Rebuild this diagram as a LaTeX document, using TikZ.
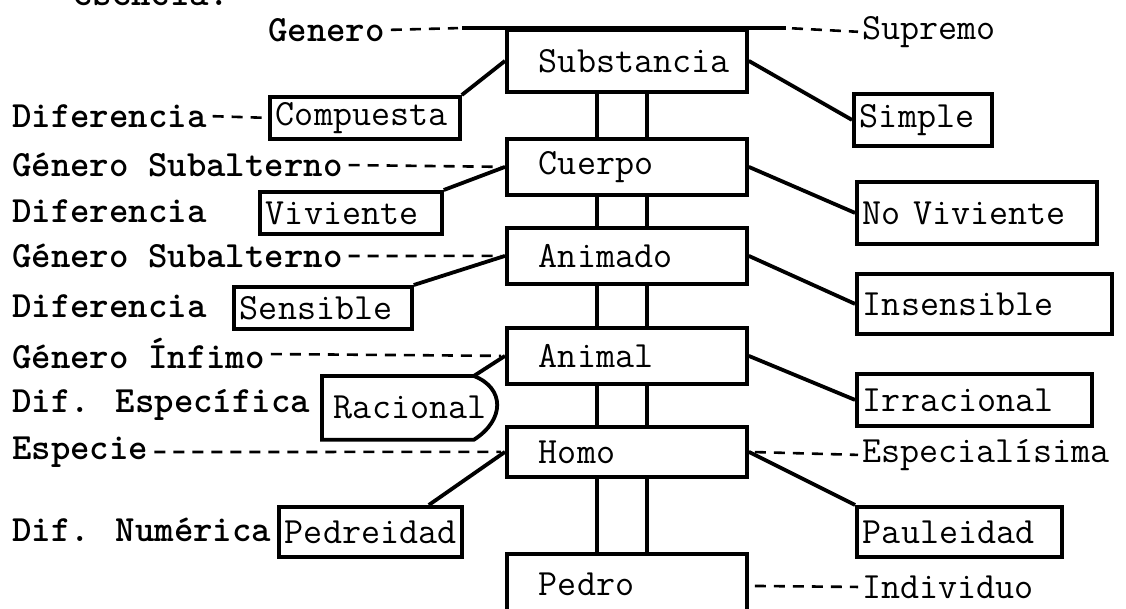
\documentclass[tikz,border=0pt]{standalone}
\usepackage{fontspec}
\usetikzlibrary{positioning}
\newlength{\du}
\setlength{\du}{1pt}
\definecolor{dialinecolor}{rgb}{0.000000, 0.000000, 0.000000}
\tikzset{
  caja/.style={draw=dialinecolor, line width=3.8\du, rectangle, anchor=north west,
    inner ysep=0pt, align=left, font=\ttfamily\fontsize{37}{40}\selectfont},
  rotulo/.style={anchor=west, inner sep=0pt, text=dialinecolor,
    font=\ttfamily\bfseries\fontsize{37}{40}\selectfont},
  rotulofino/.style={anchor=west, inner sep=0pt, text=dialinecolor,
    font=\ttfamily\fontsize{37}{40}\selectfont},
  rama/.style={draw=dialinecolor, line width=3.8\du},
  guion/.style={draw=dialinecolor, line width=2.6\du, dash pattern=on 11\du off 8\du,
    shorten <=6\du, shorten >=4\du},
}

\begin{document}
\begin{tikzpicture}
\pgftransformxscale{1.000000}
\pgftransformyscale{-1.000000}
\useasboundingbox[fill=white] (0\du,0\du) rectangle (1126\du,609\du);
% columna central
\node[caja, minimum height=62\du, text width=176\du, inner xsep=32\du] (subst) at (505\du,28\du){Substancia};
\node[caja, minimum height=56\du, text width=176\du, inner xsep=32\du] (cuerpo) at (505\du,137\du){Cuerpo};
\node[caja, minimum height=56\du, text width=176\du, inner xsep=32\du] (animado) at (505\du,226\du){Animado};
\node[caja, minimum height=56\du, text width=176\du, inner xsep=32\du] (animal) at (505\du,326\du){Animal};
\node[caja, minimum height=50\du, text width=176\du, inner xsep=32\du] (homo) at (505\du,425\du){Homo};
\node[caja, minimum height=64\du, text width=176\du, inner xsep=32\du, text depth=4\du] (pedro) at (505\du,552\du){Pedro};
% diferencias a la izquierda
\node[caja, minimum height=42\du, text width=178\du, inner xsep=6\du] (compuesta) at (268\du,95\du){Compuesta};
\node[caja, minimum height=42\du, text width=170\du, inner xsep=6\du] (viviente) at (258\du,190\du){Viviente};
\node[caja, minimum height=42\du, text width=166\du, inner xsep=6\du] (sensible) at (232\du,285\du){Sensible};
\node[caja, draw=none, minimum height=60\du, text width=128\du, inner xsep=10\du] (racional) at (322\du,376\du){Racional};
\node[caja, minimum height=50\du, text width=171\du, inner xsep=6\du] (pedreidad) at (277\du,505\du){Pedreidad};
% diferencias a la derecha
\node[caja, minimum height=52\du, text width=126\du, inner xsep=6\du] (simple) at (852\du,92\du){Simple};
\node[caja, minimum height=62\du, text width=228\du, inner xsep=6\du] (noviviente) at (855\du,180\du){No Viviente};
\node[caja, minimum height=60\du, text width=243\du, inner xsep=6\du] (insensible) at (855\du,272\du){Insensible};
\node[caja, minimum height=52\du, text width=223\du, inner xsep=6\du] (irracional) at (855\du,372\du){Irracional};
\node[caja, minimum height=50\du, text width=193\du, inner xsep=6\du] (pauleidad) at (855\du,505\du){Pauleidad};
% rotulos
\node[rotulo, anchor=base west] (esencia) at (73\du,6\du){esencia:};
\node[rotulo] (genero) at (268\du,30\du){Genero};
\node[rotulofino] (supremo) at (862\du,32\du){Supremo};
\node[rotulo] (dif1) at (12\du,116\du){Diferencia};
\node[rotulo] (gensub1) at (12\du,165\du){Género Subalterno};
\node[rotulo] (dif2) at (12\du,211\du){Diferencia};
\node[rotulo] (gensub2) at (12\du,256\du){Género Subalterno};
\node[rotulo] (dif3) at (12\du,306\du){Diferencia};
\node[rotulo] (geninf) at (12\du,354\du){Género Ínfimo};
\node[rotulo] (difesp) at (12\du,405\du){Dif. Específica};
\node[rotulo] (especie) at (12\du,452\du){Especie};
\node[rotulo] (difnum) at (12\du,530\du){Dif. Numérica};
\node[rotulofino] (especialisima) at (862\du,455\du){Especialísima};
\node[rotulofino] (individuo) at (862\du,587\du){Individuo};
% linea superior
\coordinate (lineaini) at (462\du,28\du);
\coordinate (lineafin) at (786\du,28\du);
\draw[rama] (lineaini) -- (lineafin);
\draw[guion] (genero.east) -- (lineaini);
\draw[guion] (lineafin) -- (supremo.west);
% racional con su llave
\draw[rama] (racional.north east) -- (racional.north west) -- (racional.south west) -- (racional.south east)
  .. controls (505\du,420\du) and (505\du,388\du) .. (racional.north east);
% ramas
\draw[rama] (subst.west) -- (compuesta.north east);
\draw[rama] (subst.east) -- (simple.west);
\draw[rama] (cuerpo.west) -- (viviente.north east);
\draw[rama] (cuerpo.east) -- (noviviente.west);
\draw[rama] (animado.west) -- (sensible.north east);
\draw[rama] (animado.east) -- (insensible.west);
\draw[rama] (animal.west) -- (racional.north east);
\draw[rama] (animal.east) -- (irracional.west);
\draw[rama] (homo.west) -- ([xshift=-35\du]pedreidad.north east);
\draw[rama] (homo.east) -- (pauleidad.north west);
% dos trazos entre cada caja central
\foreach \arriba/\abajo in {subst/cuerpo, cuerpo/animado, animado/animal, animal/homo, homo/pedro}{
  \draw[rama] ([xshift=-30\du]\arriba.south) -- ([xshift=-30\du]\abajo.north);
  \draw[rama] ([xshift=20\du]\arriba.south) -- ([xshift=20\du]\abajo.north);
}
% lineas de puntos
\draw[guion] (dif1.east) -- (compuesta.west);
\draw[guion] (gensub1.east) -- (cuerpo.west);
\draw[guion] (gensub2.east) -- (animado.west);
\draw[guion] (geninf.east) -- (animal.west);
\draw[guion] (especie.east) -- (homo.west);
\draw[guion] (homo.east) -- (especialisima.west);
\draw[guion] (pedro.east) -- (individuo.west);
\end{tikzpicture}
\end{document}
